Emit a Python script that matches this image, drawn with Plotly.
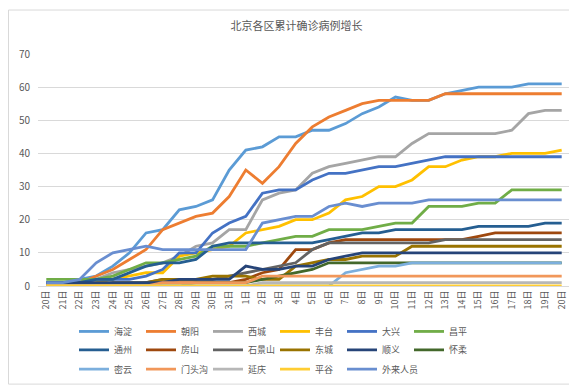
import plotly.graph_objects as go

days = ["20日","21日","22日","23日","24日","25日","26日","27日","28日","29日","30日","31日",
        "1日","2日","3日","4日","5日","6日","7日","8日","9日","10日","11日","12日","13日",
        "14日","15日","16日","17日","18日","19日","20日"]
cats = [f"{i:02d}_{d}" for i, d in enumerate(days)]

haidian   = [1,1,2,3,6,10,16,17,23,24,26,35,41,42,45,45,47,47,49,52,54,57,56,56,58,59,60,60,60,61,61,61]
chaoyang  = [0,1,1,3,5,8,11,17,19,21,22,27,35,31,36,43,48,51,53,55,56,56,56,56,58,58,58,58,58,58,58,58]
xicheng   = [0,0,1,2,4,5,6,7,9,12,13,17,17,26,28,29,34,36,37,38,39,39,43,46,46,46,46,46,47,52,53,53]
fengtai   = [0,0,0,1,2,3,4,4,9,10,11,12,16,17,18,20,20,22,26,27,30,30,32,36,36,38,39,39,40,40,40,41]
daxing    = [1,1,1,2,2,2,3,5,10,10,16,19,21,28,29,29,32,34,34,35,36,36,37,38,39,39,39,39,39,39,39,39]
changping = [2,2,2,2,3,5,7,7,8,9,12,12,12,13,14,15,15,17,17,17,18,19,19,24,24,24,25,25,29,29,29,29]
tongzhou  = [0,0,1,2,2,4,6,7,7,8,12,13,13,13,13,13,13,14,15,16,16,17,17,17,17,17,18,18,18,18,19,19]
fangshan  = [0,0,0,0,0,0,0,1,1,1,1,1,2,4,5,11,11,13,14,14,14,14,14,14,14,14,15,16,16,16,16,16]
shijingshan = [0,0,0,0,0,0,1,2,2,2,2,3,4,5,6,7,11,13,13,13,13,13,13,13,14,14,14,14,14,14,14,14]
dongcheng = [0,0,0,0,1,1,1,2,2,2,3,3,3,2,2,6,7,8,8,9,9,9,12,12,12,12,12,12,12,12,12,12]
shunyi    = [1,1,1,1,1,1,1,1,2,2,2,2,6,5,5,6,6,8,9,10,10,10,10,10,10,10,10,10,10,10,10,10]
huairou   = [0,0,0,0,0,0,0,0,0,1,1,1,1,2,3,4,5,7,7,7,7,7,7,7,7,7,7,7,7,7,7,7]
miyun     = [0,0,0,0,0,0,0,0,0,0,0,0,0,0,0,0,0,0,4,5,6,6,7,7,7,7,7,7,7,7,7,7]
mentougou = [0,0,0,0,0,0,0,1,1,1,1,1,1,3,3,3,3,3,3,3,3,3,3,3,3,3,3,3,3,3,3,3]
yanqing   = [0,0,0,0,0,0,0,0,0,0,0,0,0,1,1,1,1,1,1,1,1,1,1,1,1,1,1,1,1,1,1,1]
pinggu    = [0,0,0,0,0,0,0,0,0,0,0,0,0,0,0,0,0,0,0,0,0,0,0,0,0,0,0,0,0,0,0,0]
outside   = [1,1,2,7,10,11,12,11,11,11,11,11,11,19,20,21,21,24,25,24,25,25,25,26,26,26,26,26,26,26,26,26]

series = [
    ("海淀", haidian, "#5B9BD5"), ("朝阳", chaoyang, "#ED7D31"), ("西城", xicheng, "#A5A5A5"),
    ("丰台", fengtai, "#FFC000"), ("大兴", daxing, "#4472C4"), ("昌平", changping, "#70AD47"),
    ("通州", tongzhou, "#255E91"), ("房山", fangshan, "#9E480E"), ("石景山", shijingshan, "#636363"),
    ("东城", dongcheng, "#997300"), ("顺义", shunyi, "#264478"), ("怀柔", huairou, "#43682B"),
    ("密云", miyun, "#7CAFDD"), ("门头沟", mentougou, "#F1975A"), ("延庆", yanqing, "#B7B7B7"),
    ("平谷", pinggu, "#FFCD33"), ("外来人员", outside, "#698ED0"),
]

FONT = "Noto Sans CJK SC"
fig = go.Figure()
legends = ["legend", "legend2", "legend3"]
for i, (name, vals, color) in enumerate(series):
    fig.add_trace(go.Scatter(
        x=cats, y=vals, name=name, mode="lines",
        line=dict(color=color, width=2.8),
        legend=legends[i // 6],
    ))
# invisible spacer so the last legend entry is not clipped
fig.add_trace(go.Scatter(x=[None], y=[None], name=" ", mode="lines",
                         line=dict(width=0, color="rgba(0,0,0,0)"), legend="legend3",
                         hoverinfo="skip"))

W, H = 577, 388
L, R, T, B = 30, 15, 46, 102
pw, ph = W - L - R, H - T - B

def px2paper_x(px):
    return (px - L) / pw

def py2paper_y(py):
    return (H - B - py) / ph

leg_common = dict(orientation="h", xanchor="left", yanchor="middle",
                  entrywidth=22, entrywidthmode="pixels",
                  font=dict(family=FONT, size=9, color="#595959"),
                  bgcolor="rgba(0,0,0,0)", itemclick=False, tracegroupgap=0)
LX = 66
fig.update_layout(
    width=W, height=H,
    margin=dict(l=L, r=R, t=T, b=B),
    paper_bgcolor="white", plot_bgcolor="white",
    title=dict(text="北京各区累计确诊病例增长", x=0.5, xanchor="center", y=1 - 18 / H, yanchor="middle",
               font=dict(family=FONT, size=11, color="#595959")),
    font=dict(family=FONT, color="#595959"),
    xaxis=dict(type="category", range=[-0.5, 31.5], tickmode="array", tickvals=cats, ticktext=days,
               tickangle=-90, tickfont=dict(size=9, family=FONT, color="#595959"),
               showgrid=False, showline=True, linecolor="#D9D9D9", linewidth=1, ticks="", fixedrange=True),
    yaxis=dict(range=[0, 70], dtick=10, tickfont=dict(size=10, family=FONT, color="#595959"),
               ticklabelstandoff=7,
               gridcolor="#D9D9D9", gridwidth=1, zeroline=False, showline=False, ticks="", fixedrange=True),
    legend=dict(**leg_common, x=px2paper_x(LX), y=py2paper_y(333)),
    legend2=dict(**leg_common, x=px2paper_x(LX), y=py2paper_y(352)),
    legend3=dict(**leg_common, x=px2paper_x(LX), y=py2paper_y(372)),
    showlegend=True,
)
fig.add_shape(type="rect", xref="paper", yref="paper",
              x0=px2paper_x(0.5), x1=px2paper_x(576.5), y0=py2paper_y(387.5), y1=py2paper_y(0.5),
              line=dict(color="#D9D9D9", width=1), fillcolor="rgba(0,0,0,0)", layer="below")
fig.write_html("out.html")
